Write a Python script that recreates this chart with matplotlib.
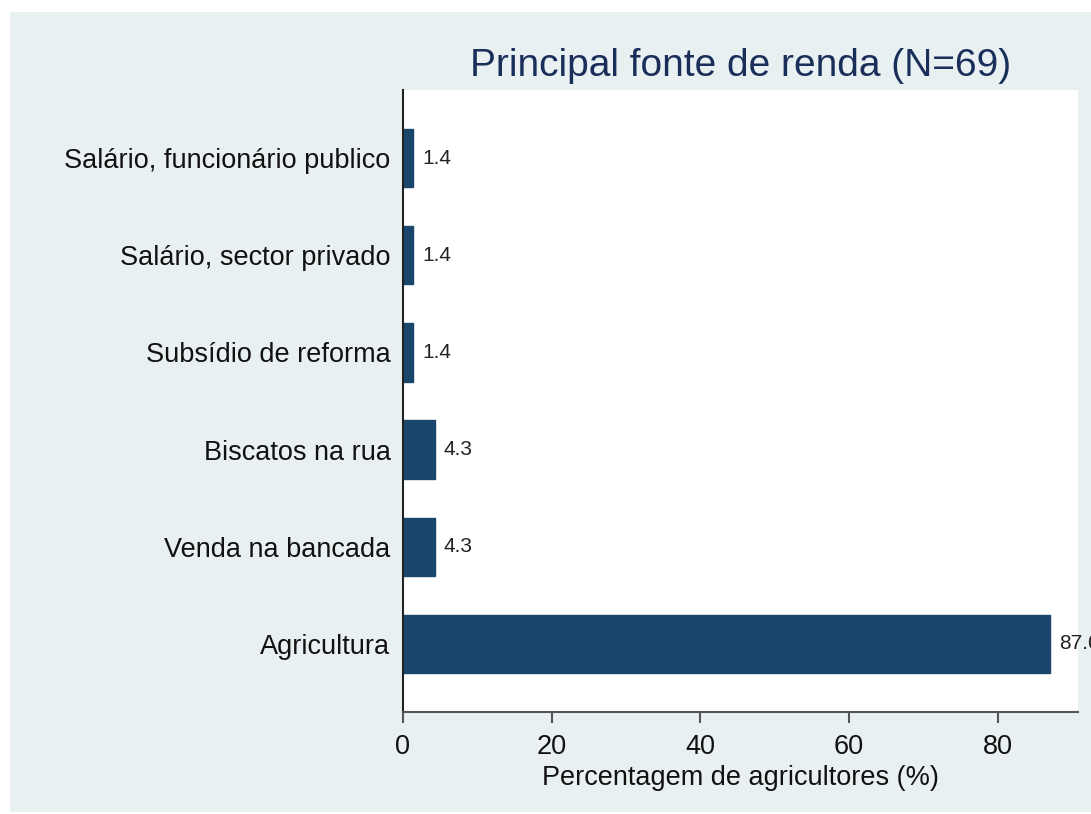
import matplotlib.pyplot as plt
from matplotlib.patches import Rectangle

categories = ["Agricultura", "Venda na bancada", "Biscatos na rua",
              "Subsídio de reforma", "Salário, sector privado",
              "Salário, funcionário publico"]
values = [87.0, 4.3, 4.3, 1.4, 1.4, 1.4]
xticks = [0, 20, 40, 60, 80]

plt.rcParams['font.family'] = ['Liberation Sans', 'DejaVu Sans']

W, H = 1091, 814
fig = plt.figure(figsize=(W / 100, H / 100), dpi=100, facecolor='white')
fig.patches.append(Rectangle((10 / W, 2 / H), 1, 1 - 14 / H,
                             transform=fig.transFigure,
                             facecolor='#e8f0f2', edgecolor='none', zorder=-1))

ax = fig.add_axes([403 / W, 1 - 712 / H, (1078 - 403) / W, (712 - 90) / H])
ax.set_facecolor('white')

pos = list(range(len(categories)))
ax.barh(pos, values, height=0.6, color='#1b466c', edgecolor='#1b466c')
for p, v in zip(pos, values):
    ax.text(v + 1.2, p, f"{v:.1f}", va='center', ha='left',
            fontsize=15, color='#222222', clip_on=False)

ax.set_xlim(0, 90.8)
ax.set_ylim(-0.7, 5.7)
ax.set_yticks(pos)
ax.set_yticklabels(categories, fontsize=19.5, color='#111111')
ax.tick_params(axis='y', length=0, pad=9)
ax.set_xticks(xticks)
ax.set_xticklabels([str(t) for t in xticks], fontsize=19.5, color='#111111')
ax.tick_params(axis='x', length=8, width=1.5, color='#555555', pad=7.5)

for s in ['top', 'right']:
    ax.spines[s].set_visible(False)
ax.spines['left'].set_color('#222222')
ax.spines['left'].set_linewidth(1.5)
ax.spines['bottom'].set_color('#555555')
ax.spines['bottom'].set_linewidth(1.5)

ax.set_xlabel("Percentagem de agricultores (%)", fontsize=19.5,
              color='#111111', labelpad=4)
fig.text((403 + 1078) / 2 / W, 1 - 66 / H, "Principal fonte de renda (N=69)",
         fontsize=28, color='#1a2e5a', ha='center', va='center')

fig.savefig('out.png', dpi=100, facecolor=fig.get_facecolor())
